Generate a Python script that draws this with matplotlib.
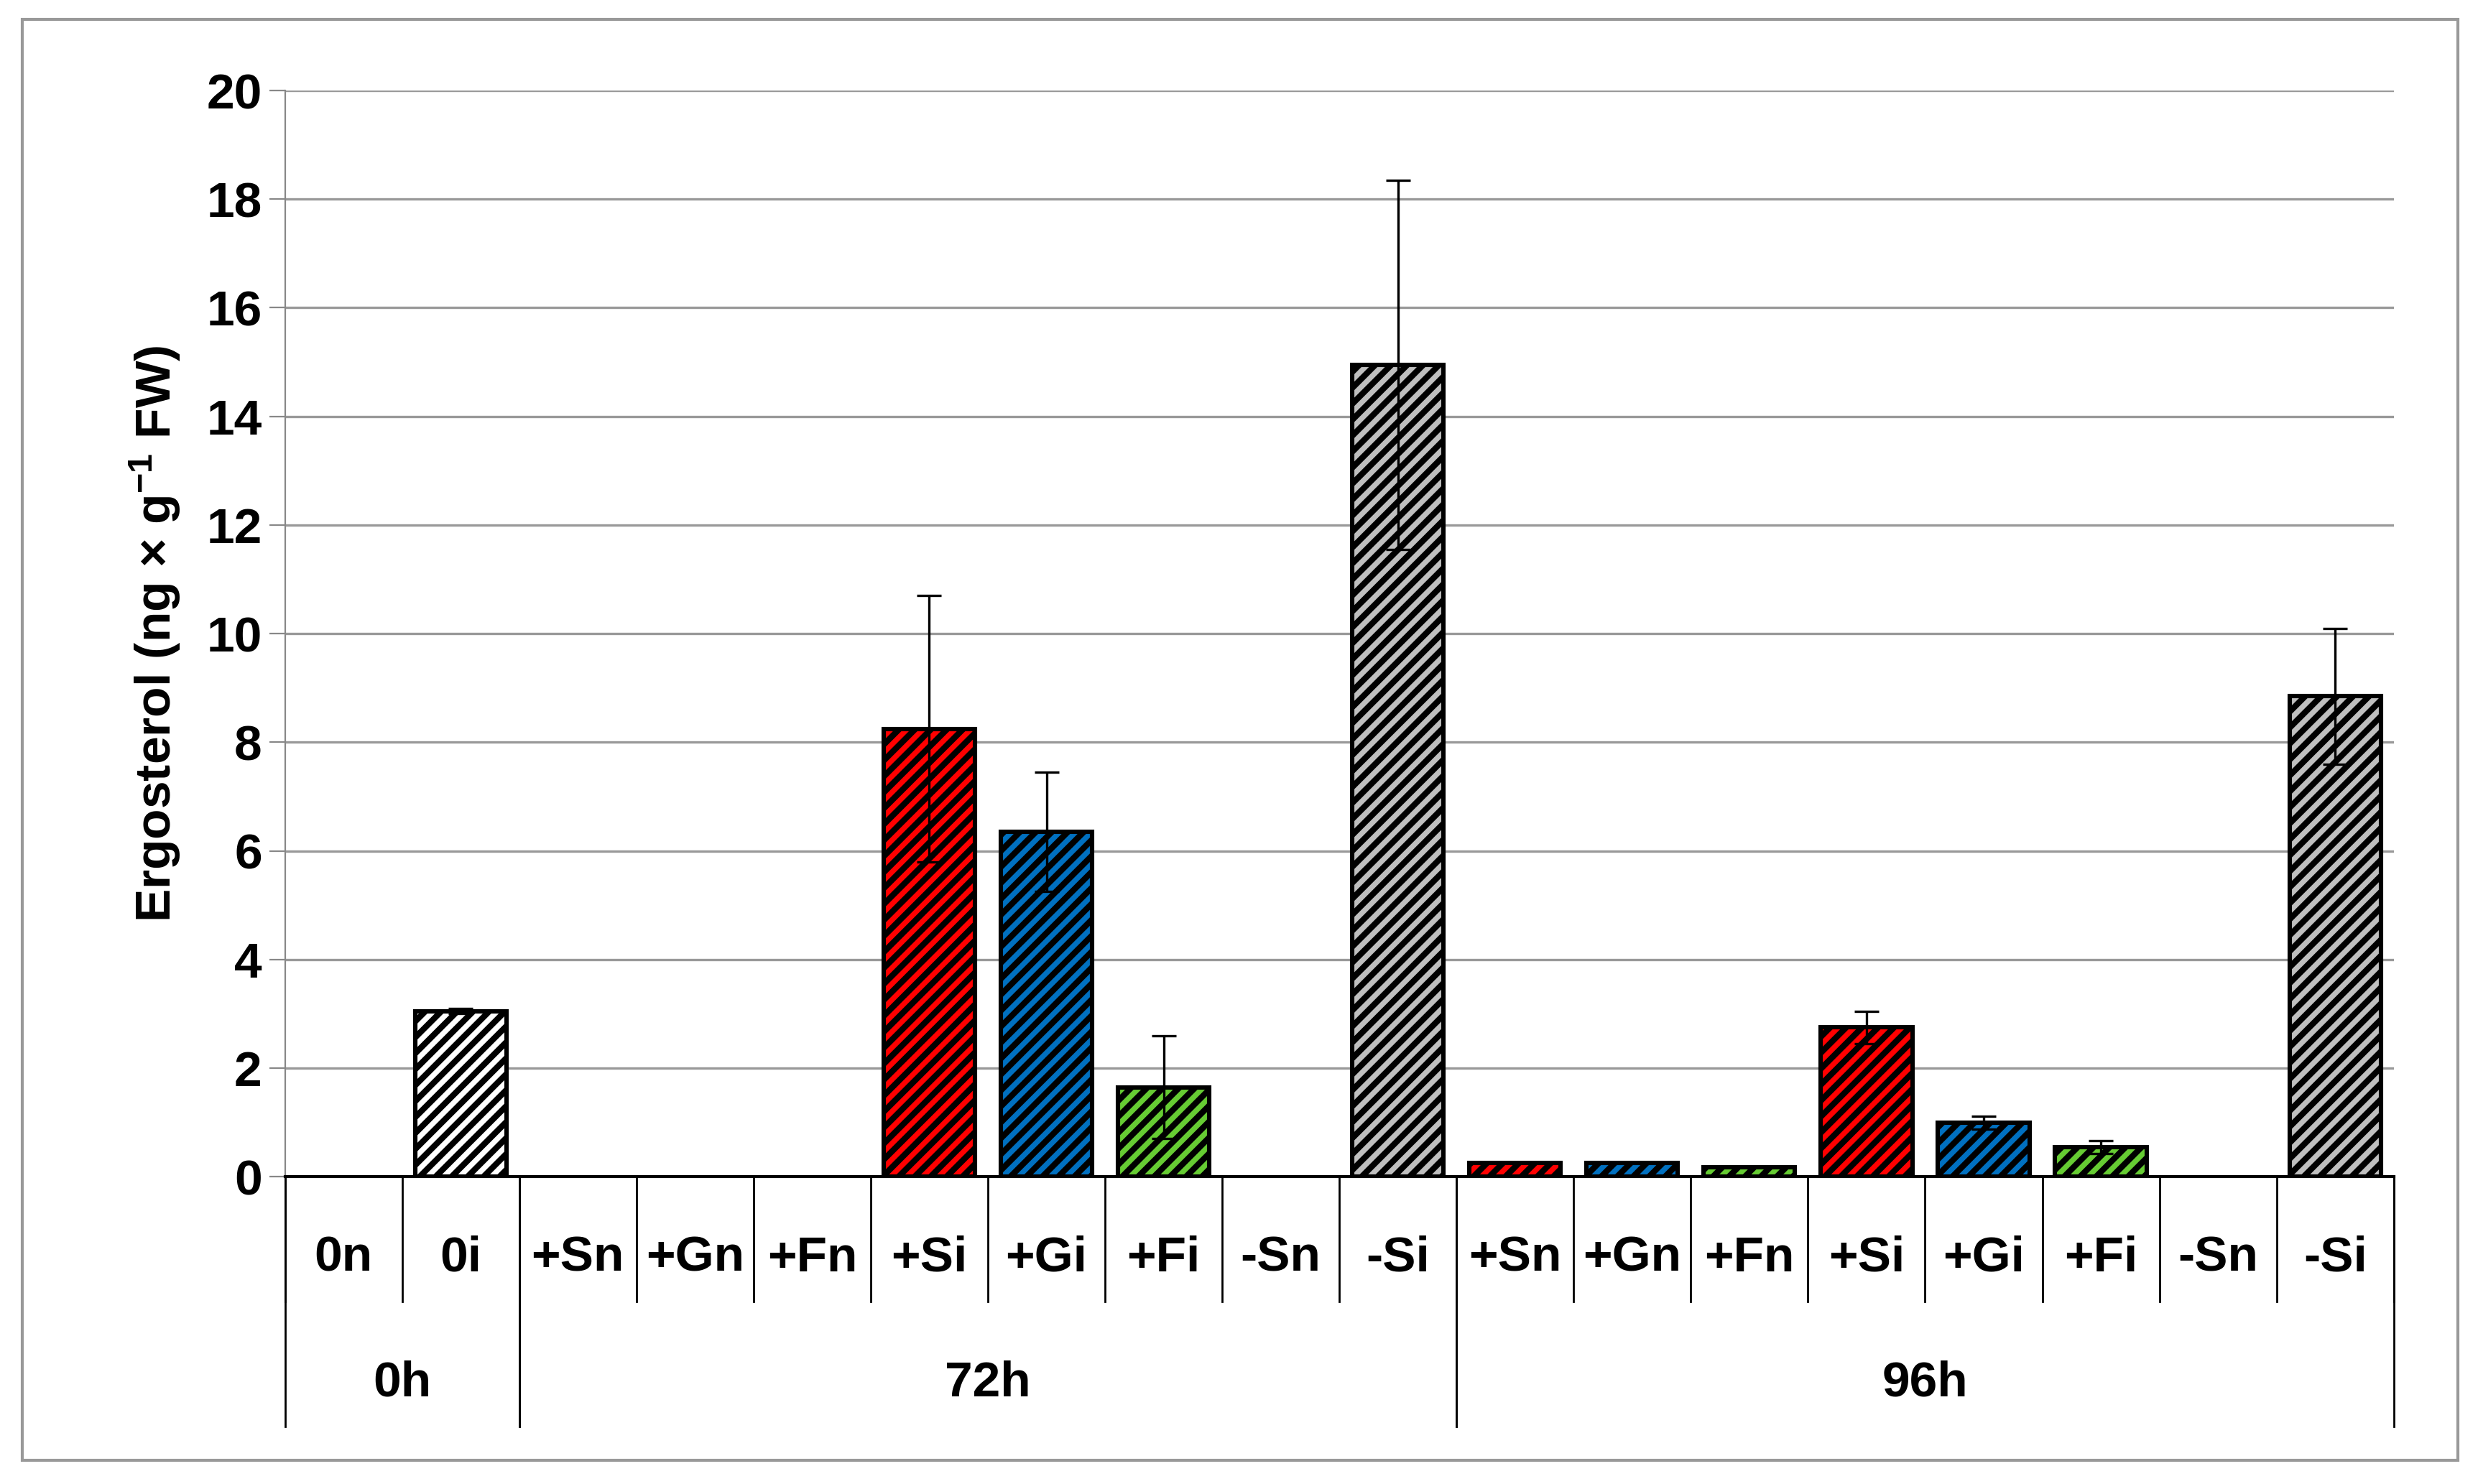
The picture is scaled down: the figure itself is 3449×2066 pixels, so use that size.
import matplotlib
matplotlib.use("Agg")
import matplotlib.pyplot as plt
from matplotlib.transforms import blended_transform_factory
from matplotlib.patches import Rectangle

categories = ["0n","0i","+Sn","+Gn","+Fn","+Si","+Gi","+Fi","-Sn","-Si",
              "+Sn","+Gn","+Fn","+Si","+Gi","+Fi","-Sn","-Si"]
values = [0,3.05,0,0,0,8.25,6.35,1.65,0,14.95,
          0.25,0.25,0.18,2.75,1.0,0.55,0,8.85]
errors = [0,0.05,0,0,0,2.45,1.1,0.95,0,3.4,
          0,0,0,0.3,0.12,0.12,0,1.25]
colors = ["white","white","#ff0000","#0070c0","#66cc33","#ff0000","#0070c0","#66cc33","#bfbfbf","#bfbfbf",
          "#ff0000","#0070c0","#66cc33","#ff0000","#0070c0","#66cc33","#bfbfbf","#bfbfbf"]
groups = [("0h",0,2),("72h",2,10),("96h",10,18)]

plt.rcParams['font.family'] = ['Liberation Sans', 'DejaVu Sans']
plt.rcParams['mathtext.fontset'] = 'custom'
plt.rcParams['mathtext.rm'] = 'Liberation Sans:bold'
plt.rcParams['mathtext.default'] = 'rm'
plt.rcParams['hatch.linewidth'] = 3.0
fig = plt.figure(figsize=(17.245,10.33), dpi=200)
ax = fig.add_axes([0.115,0.207,0.851,0.732])
n = len(categories)
x = list(range(n))
for i in x:
    if values[i] > 0:
        ax.bar(i, values[i], width=0.78, color=colors[i], edgecolor="black", linewidth=2.2,
               hatch="///", zorder=3)
        if errors[i] > 0:
            ax.errorbar(i, values[i], yerr=errors[i], fmt="none", ecolor="black",
                        elinewidth=1.2, capsize=6, capthick=1.2, zorder=4)
ax.set_xlim(-0.5, n-0.5)
ax.set_ylim(0, 20)
ax.set_yticks(range(0,21,2))
ax.yaxis.grid(True, color="#999999", linewidth=1.2, zorder=0)
ax.set_xticks([])
for s in ["top","right"]:
    ax.spines[s].set_visible(False)
ax.spines["left"].set_color("#888888")
ax.spines["bottom"].set_color("black")
ax.spines["bottom"].set_linewidth(1.5)
ax.tick_params(axis="y", labelsize=25, length=8, color="#888888")
for t in ax.get_yticklabels():
    t.set_fontweight("bold")
ax.set_ylabel("Ergosterol (ng × g$^{-1}$ FW)", fontsize=25, fontweight="bold", labelpad=12)

tr = blended_transform_factory(ax.transData, ax.transAxes)
for i, c in enumerate(categories):
    ax.text(i, -0.075, c, transform=tr, ha="center", va="center", fontsize=25, fontweight="bold")
for b in range(n+1):
    ax.plot([b-0.5,b-0.5],[0,-0.115], transform=tr, color="black", lw=1.0, clip_on=False)
for name, a, bnd in groups:
    ax.text((a+bnd-1)/2, -0.19, name, transform=tr, ha="center", va="center", fontsize=25, fontweight="bold")
    for e in (a, bnd):
        ax.plot([e-0.5,e-0.5],[0,-0.23], transform=tr, color="black", lw=1.0, clip_on=False)

fig.patches.append(Rectangle((0.009,0.016),0.983,0.971, transform=fig.transFigure,
                             fill=False, edgecolor="#999999", lw=1.5))
fig.savefig("out.png", dpi=200)
